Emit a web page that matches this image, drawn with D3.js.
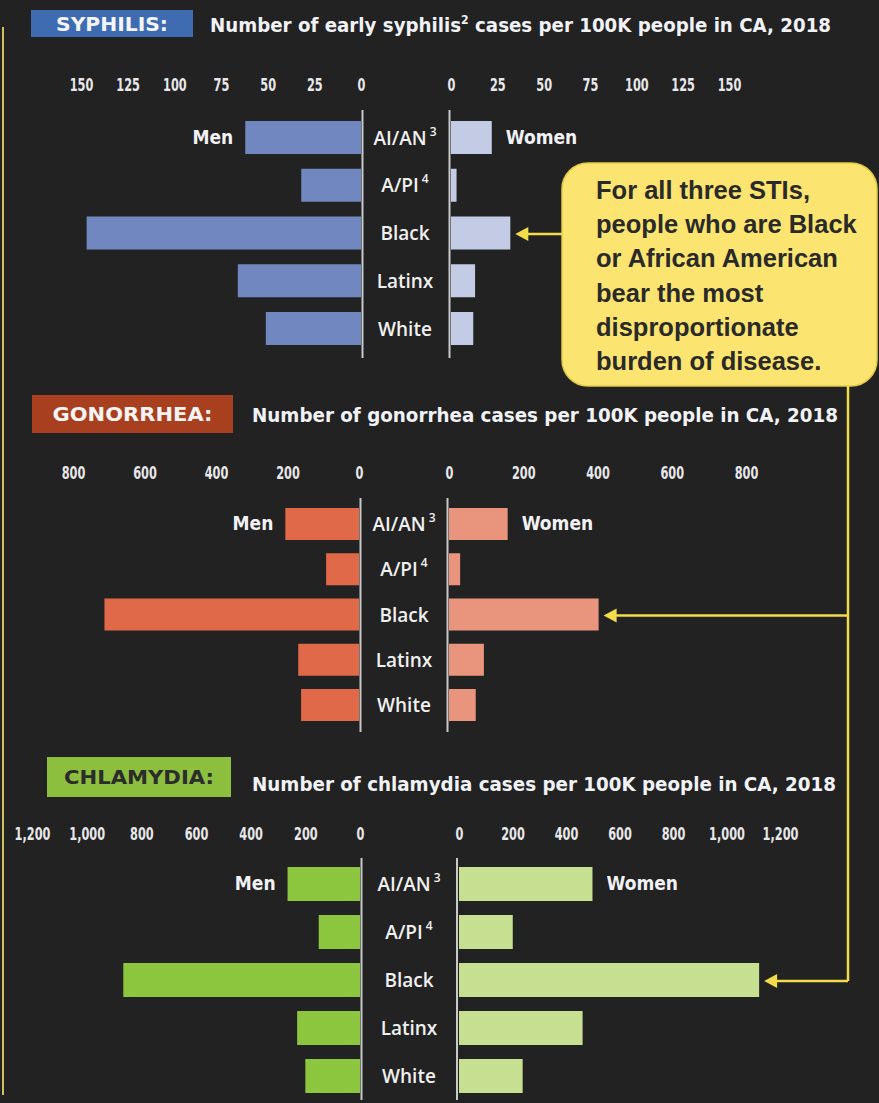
<!DOCTYPE html>
<html>
<head>
<meta charset="utf-8">
<script src="https://cdn.jsdelivr.net/npm/d3@7"></script>
<style>
  body { margin: 0; background: #222222; }
  svg { display: block; }
</style>
</head>
<body>
<div id="chart"></div>
<script>
// Data (cases per 100K people in CA, 2018)
const categories = ["AI/AN", "A/PI", "Black", "Latinx", "White"];
const categorySup = ["3", "4", "", "", ""];

const syphilisMen = [62, 32, 147, 66, 51];
const syphilisWomen = [22, 3, 32, 13, 12];
const gonorrheaMen = [206, 92, 712, 170, 162];
const gonorrheaWomen = [158, 30, 403, 94, 72];
const chlamydiaMen = [265, 151, 866, 230, 200];
const chlamydiaWomen = [499, 201, 1122, 462, 238];

const syphilisTicks = [0, 25, 50, 75, 100, 125, 150];
const gonorrheaTicks = [0, 200, 400, 600, 800];
const chlamydiaTicks = [0, 200, 400, 600, 800, 1000, 1200];

const calloutLines = [
  "For all three STIs,",
  "people who are Black",
  "or African American",
  "bear the most",
  "disproportionate",
  "burden of disease."
];

const narrow = "'Liberation Sans Narrow', 'DejaVu Sans Condensed', 'Liberation Sans', sans-serif";
const yellow = "#f2dc4b";

const W = 879, H = 1103;
const svg = d3.select("#chart")
  .append("svg")
    .attr("width", W)
    .attr("height", H)
    .attr("viewBox", `0 0 ${W} ${H}`);

svg.append("rect").attr("width", W).attr("height", H).attr("fill", "#222222");

// thin yellow frame line on the left
svg.append("line")
  .attr("x1", 3).attr("x2", 3).attr("y1", 27).attr("y2", 1095)
  .attr("stroke", "#cfc063").attr("stroke-width", 2);

// one block per infection
const sections = [
  {
    name: "SYPHILIS:", nameW: 112, box: [31, 10, 162, 27], boxFill: "#3f6cb0", nameFill: "#f4f4f4",
    titleA: "Number of early syphilis", sup: "2", titleB: " cases per 100K people in CA, 2018",
    titleX: 210, titleW: 621, titleY: 32,
    men: syphilisMen, women: syphilisWomen, ticks: syphilisTicks,
    left: [361, 81], right: [451, 729], tickY: 91,
    rows: [137.5, 328.5], barH: 33, div: [362.5, 449.5, 110, 358],
    menFill: "#7087bf", womenFill: "#c4cbe4", labelX: 405
  },
  {
    name: "GONORRHEA:", nameW: 160, box: [32, 395, 201, 38], boxFill: "#a8401f", nameFill: "#f4f4f4",
    titleA: "Number of gonorrhea cases per 100K people in CA, 2018", sup: "", titleB: "",
    titleX: 252, titleW: 586, titleY: 422,
    men: gonorrheaMen, women: gonorrheaWomen, ticks: gonorrheaTicks,
    left: [359, 73], right: [449, 746], tickY: 479,
    rows: [524, 705], barH: 32, div: [360.5, 447.5, 498, 732],
    menFill: "#e0694a", womenFill: "#e9957d", labelX: 404
  },
  {
    name: "CHLAMYDIA:", nameW: 150, box: [47, 757, 184, 40], boxFill: "#8dbf3f", nameFill: "#2c2c2c",
    titleA: "Number of chlamydia cases per 100K people in CA, 2018", sup: "", titleB: "",
    titleX: 252, titleW: 584, titleY: 791,
    men: chlamydiaMen, women: chlamydiaWomen, ticks: chlamydiaTicks,
    left: [360, 32], right: [459, 780], tickY: 840,
    rows: [884, 1076], barH: 34, div: [361.5, 457, 858, 1100],
    menFill: "#8cc63f", womenFill: "#c6df90", labelX: 409
  }
];

const arrowTips = [];

sections.forEach(s => {
  const g = svg.append("g");
  const maxV = s.ticks[s.ticks.length - 1];
  const xL = d3.scaleLinear().domain([0, maxV]).range(s.left);
  const xR = d3.scaleLinear().domain([0, maxV]).range(s.right);
  const y = d3.scalePoint().domain(categories).range(s.rows);

  // title badge
  g.append("rect")
    .attr("x", s.box[0]).attr("y", s.box[1])
    .attr("width", s.box[2]).attr("height", s.box[3])
    .attr("fill", s.boxFill);
  g.append("text")
    .attr("x", s.box[0] + s.box[2] / 2).attr("y", s.box[1] + s.box[3] / 2 + 7)
    .attr("text-anchor", "middle")
    .attr("font-family", narrow).attr("font-weight", "bold").attr("font-size", 20)
    .attr("fill", s.nameFill)
    .attr("textLength", s.nameW).attr("lengthAdjust", "spacingAndGlyphs")
    .text(s.name);

  // chart title
  const t = g.append("text")
    .attr("x", s.titleX).attr("y", s.titleY)
    .attr("font-family", narrow).attr("font-weight", "bold").attr("font-size", 20)
    .attr("fill", "#f0f2f6")
    .attr("textLength", s.titleW).attr("lengthAdjust", "spacingAndGlyphs");
  t.append("tspan").text(s.titleA);
  if (s.sup) {
    t.append("tspan").attr("font-size", 12).attr("dy", -8).text(s.sup);
    t.append("tspan").attr("dy", 8).text(s.titleB);
  }

  // axes (labels only)
  [xL, xR].forEach(sc => {
    const ax = g.append("g")
      .attr("transform", `translate(0,${s.tickY})`)
      .call(d3.axisTop(sc).tickValues(s.ticks).tickSize(0).tickPadding(0).tickFormat(d3.format(",")));
    ax.select(".domain").remove();
    ax.selectAll("text")
      .attr("font-family", narrow).attr("font-weight", "bold").attr("font-size", 17.5)
      .attr("fill", "#e8e8ea").attr("dy", 0)
      .attr("transform", "scale(0.72,1)");
  });

  // bars
  const rows = categories.map((c, i) => ({ c, sup: categorySup[i], m: s.men[i], w: s.women[i] }));
  g.selectAll("rect.men")
    .data(rows)
    .join("rect")
      .attr("class", "men")
      .attr("x", d => xL(d.m))
      .attr("y", d => y(d.c) - s.barH / 2)
      .attr("width", d => xL(0) - xL(d.m))
      .attr("height", s.barH)
      .attr("fill", s.menFill);
  g.selectAll("rect.women")
    .data(rows)
    .join("rect")
      .attr("class", "women")
      .attr("x", xR(0))
      .attr("y", d => y(d.c) - s.barH / 2)
      .attr("width", d => xR(d.w) - xR(0))
      .attr("height", s.barH)
      .attr("fill", s.womenFill);

  // dividers
  [s.div[0], s.div[1]].forEach(x => {
    g.append("line")
      .attr("x1", x).attr("x2", x).attr("y1", s.div[2]).attr("y2", s.div[3])
      .attr("stroke", "#c9c9c9").attr("stroke-width", 2);
  });

  // category labels
  const lab = g.selectAll("text.cat")
    .data(rows)
    .join("text")
      .attr("class", "cat")
      .attr("x", s.labelX)
      .attr("y", d => y(d.c) + 7)
      .attr("text-anchor", "middle")
      .attr("font-family", "'Open Sans', sans-serif").attr("font-weight", 600).attr("font-size", 19)
      .attr("fill", "#f0f0f0");
  lab.append("tspan").text(d => d.c);
  lab.filter(d => d.sup).append("tspan")
    .attr("font-size", 12).attr("dx", 3).attr("dy", -9)
    .text(d => d.sup);

  // Men / Women
  const first = rows[0];
  g.append("text")
    .attr("x", xL(first.m) - 12).attr("y", y(first.c) + 6)
    .attr("text-anchor", "end")
    .attr("font-family", narrow).attr("font-weight", "bold").attr("font-size", 19)
    .attr("fill", "#f2f2f6")
    .text("Men");
  g.append("text")
    .attr("x", xR(first.w) + 14).attr("y", y(first.c) + 6)
    .attr("font-family", narrow).attr("font-weight", "bold").attr("font-size", 19)
    .attr("fill", "#f2f2f6")
    .text("Women");

  const bi = categories.indexOf("Black");
  arrowTips.push({ x: xR(s.women[bi]) + 5, y: y("Black") + 1 });
});

// callout box
const box = { x: 562, y: 163, w: 315, h: 223 };
svg.append("rect")
  .attr("x", box.x).attr("y", box.y).attr("width", box.w).attr("height", box.h)
  .attr("rx", 26).attr("ry", 26)
  .attr("fill", "#fbe46f").attr("stroke", "#e3cb48").attr("stroke-width", 1.5);

svg.append("g")
  .selectAll("text")
  .data(calloutLines)
  .join("text")
    .attr("x", 596)
    .attr("y", (d, i) => 199 + i * 34.2)
    .attr("font-family", "'Liberation Sans', Arial, sans-serif")
    .attr("font-weight", "bold").attr("font-size", 25.5)
    .attr("fill", "#2a2a2a")
    .text(d => d);

// connectors
const vx = 848;
const conn = svg.append("g").attr("stroke", yellow).attr("stroke-width", 2.5).attr("fill", "none");
conn.append("line")
  .attr("x1", arrowTips[0].x + 8).attr("x2", box.x).attr("y1", arrowTips[0].y).attr("y2", arrowTips[0].y);
conn.append("line")
  .attr("x1", vx).attr("x2", vx).attr("y1", box.y + box.h).attr("y2", arrowTips[2].y);
arrowTips.slice(1).forEach(a => {
  conn.append("line").attr("x1", a.x + 8).attr("x2", vx).attr("y1", a.y).attr("y2", a.y);
});
svg.append("g")
  .selectAll("path")
  .data(arrowTips)
  .join("path")
    .attr("d", a => `M${a.x},${a.y} L${a.x + 13},${a.y - 7} L${a.x + 13},${a.y + 7} Z`)
    .attr("fill", yellow);
</script>
</body>
</html>
